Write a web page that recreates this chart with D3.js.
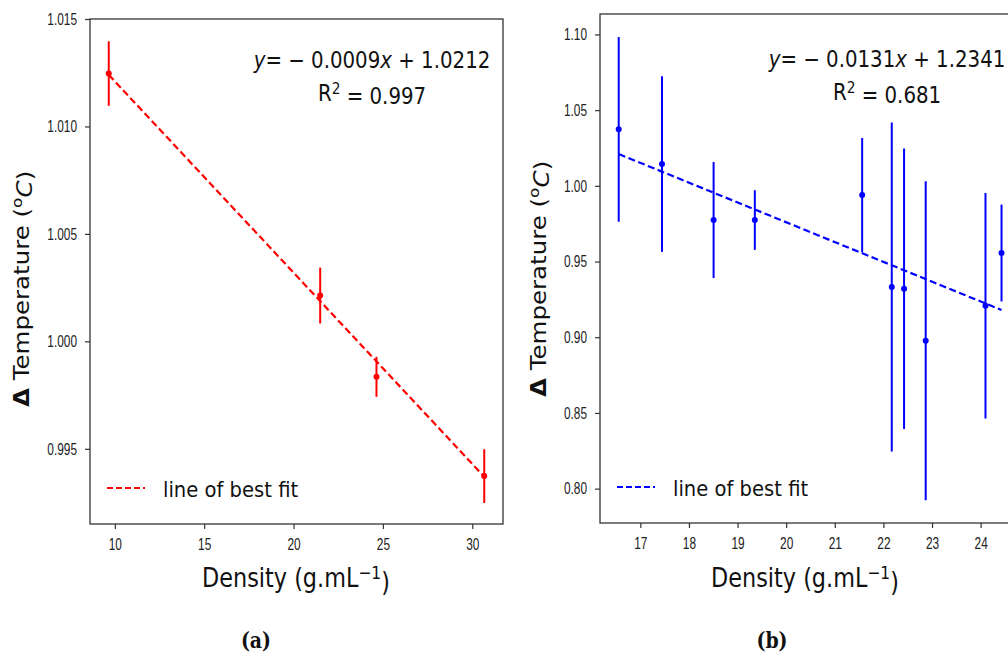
<!DOCTYPE html>
<html lang="en">
<head>
<meta charset="UTF-8">
<title>Delta temperature vs density</title>
<script src="https://cdn.jsdelivr.net/npm/d3@7"></script>
<style>
    body { margin: 0; padding: 0; background: #fff; }
    svg { display: block; font-family: 'DejaVu Sans', sans-serif; }
</style>
</head>
<body>
<script>
    // panel (a)
    const densityA = [9.66, 21.49, 24.64, 30.67];
    const tempA = [1.01246, 1.00213, 0.99835, 0.99373];
    const errA = [0.0015, 0.0013, 0.00093, 0.00125];
    const fitXA = [9.66, 30.67];
    const fitYA = [1.0124, 0.9937];
    const xTicksA = [10, 15, 20, 25, 30];
    const yTicksA = [0.995, 1.000, 1.005, 1.010, 1.015];

    // panel (b)
    const densityB = [16.555, 17.445, 18.507, 19.355, 21.563, 22.172, 22.425, 22.87, 24.10, 24.43];
    const tempB = [1.0373, 1.0144, 0.9774, 0.9774, 0.9939, 0.9332, 0.9320, 0.8977, 0.9208, 0.9556];
    const errB = [0.061, 0.058, 0.0383, 0.0197, 0.0377, 0.1087, 0.0926, 0.1054, 0.0745, 0.032];
    const fitXB = [16.555, 24.43];
    const fitYB = [1.021, 0.918];
    const xTicksB = [17, 18, 19, 20, 21, 22, 23, 24];
    const yTicksB = [0.80, 0.85, 0.90, 0.95, 1.00, 1.05, 1.10];

    const SQ = 0.86;      // picture is squeezed sideways
    const TICK_SQ = 0.72;

    const svg = d3.select("body").append("svg")
        .attr("width", 1008)
        .attr("height", 656);

    function drawPanel(p) {
        const x = d3.scaleLinear().domain(p.xDomain).range([p.left, p.right]);
        const y = d3.scaleLinear().domain(p.yDomain).range([p.bottom, p.top]);
        const g = svg.append("g");

        // fit line first, error bars on top
        const fit = p.fitX.map((v, i) => [v, p.fitY[i]]);
        g.append("path")
            .datum(fit)
            .attr("d", d3.line().x(d => x(d[0])).y(d => y(d[1])))
            .attr("fill", "none")
            .attr("stroke", p.color)
            .attr("stroke-width", 2.2)
            .attr("stroke-dasharray", "7,3.5");

        const pts = p.xs.map((v, i) => ({ x: v, y: p.ys[i], e: p.errs[i] }));
        g.selectAll("line.err").data(pts).enter().append("line")
            .attr("class", "err")
            .attr("x1", d => x(d.x)).attr("x2", d => x(d.x))
            .attr("y1", d => y(d.y - d.e)).attr("y2", d => y(d.y + d.e))
            .attr("stroke", p.color)
            .attr("stroke-width", 2);
        g.selectAll("circle").data(pts).enter().append("circle")
            .attr("cx", d => x(d.x)).attr("cy", d => y(d.y))
            .attr("r", 3)
            .attr("fill", p.color);

        // axes
        const xAxis = g.append("g")
            .attr("transform", `translate(0,${p.bottom})`)
            .call(d3.axisBottom(x).tickValues(p.xTicks).tickFormat(d3.format("d"))
                .tickSize(5).tickPadding(9).tickSizeOuter(0));
        const yAxis = g.append("g")
            .attr("transform", `translate(${p.left},0)`)
            .call(d3.axisLeft(y).tickValues(p.yTicks).tickFormat(d3.format(p.yFmt))
                .tickSize(5).tickPadding(13).tickSizeOuter(0));
        [xAxis, yAxis].forEach(a => {
            a.select(".domain").remove();
            a.selectAll(".tick line").attr("stroke", "#333").attr("stroke-width", 1.2);
            a.selectAll(".tick text")
                .attr("fill", "#222")
                .style("font-size", "16.5px")
                .attr("transform", `scale(${TICK_SQ},1)`);
        });

        // spines
        g.append("rect")
            .attr("x", p.left).attr("y", p.top)
            .attr("width", p.right - p.left).attr("height", p.bottom - p.top)
            .attr("fill", "none")
            .attr("stroke", "#333")
            .attr("stroke-width", 1.3);

        // equation
        const eq = g.append("text")
            .attr("transform", `translate(${p.eqX},${p.eqY}) scale(${SQ},1)`)
            .attr("text-anchor", "middle")
            .style("font-size", "23px")
            .attr("fill", "#111");
        eq.append("tspan").style("font-style", "italic").text("y");
        eq.append("tspan").text("= \u2212 " + p.slope);
        eq.append("tspan").style("font-style", "italic").text("x");
        eq.append("tspan").text(" + " + p.intercept);

        const r2 = g.append("text")
            .attr("transform", `translate(${p.eqX},${p.eqY + 33}) scale(${SQ},1)`)
            .attr("text-anchor", "middle")
            .style("font-size", "23px")
            .attr("fill", "#111");
        r2.append("tspan").text("R");
        r2.append("tspan").attr("dy", "-0.45em").style("font-size", "16px").text("2");
        r2.append("tspan").attr("dy", "0.45em").text(" = " + p.r2);

        // legend
        g.append("line")
            .attr("x1", p.left + 17).attr("x2", p.left + 55)
            .attr("y1", p.legY - 9).attr("y2", p.legY - 9)
            .attr("stroke", p.color)
            .attr("stroke-width", 2)
            .attr("stroke-dasharray", "6,3");
        g.append("text")
            .attr("transform", `translate(${p.left + 73},${p.legY}) scale(0.89,1)`)
            .style("font-size", "22px")
            .attr("fill", "#111")
            .text("line of best fit");

        // axis titles
        const xl = g.append("text")
            .attr("transform", `translate(${p.xLabelX},587) scale(${SQ},1)`)
            .attr("text-anchor", "middle")
            .style("font-size", "26px")
            .attr("fill", "#111");
        xl.append("tspan").text("Density (g.mL");
        xl.append("tspan").attr("dy", "-0.45em").style("font-size", "18px").text("\u22121");
        xl.append("tspan").attr("dy", "0.45em").text(")");

        const yl = g.append("text")
            .attr("transform", `translate(${p.yLabelX},${p.yLabelY}) rotate(-90) scale(1,${SQ})`)
            .style("font-size", "24.5px")
            .attr("fill", "#111");
        yl.append("tspan").style("font-weight", "bold").text("\u0394");
        yl.append("tspan").text(" Temperature (");
        yl.append("tspan").attr("dy", "-0.45em").style("font-size", "17px").text("o");
        yl.append("tspan").attr("dy", "0.45em").style("font-style", "italic").text("C");
        yl.append("tspan").text(")");

        // caption
        g.append("text")
            .attr("transform", `translate(${p.capX},648) scale(${SQ},1)`)
            .attr("text-anchor", "middle")
            .style("font-family", "'DejaVu Serif', serif")
            .style("font-weight", "bold")
            .style("font-size", "22px")
            .attr("fill", "#111")
            .text(p.caption);
    }

    drawPanel({
        xs: densityA, ys: tempA, errs: errA, fitX: fitXA, fitY: fitYA,
        xTicks: xTicksA, yTicks: yTicksA, yFmt: ".3f",
        xDomain: [8.61, 31.72], yDomain: [0.9915, 1.015],
        left: 90, right: 503, top: 19, bottom: 524,
        color: "#ff0000",
        slope: "0.0009", intercept: "1.0212", r2: "0.997",
        eqX: 372, eqY: 68, legY: 497,
        xLabelX: 296, yLabelX: 29, yLabelY: 407,
        capX: 256, caption: "(a)"
    });

    drawPanel({
        xs: densityB, ys: tempB, errs: errB, fitX: fitXB, fitY: fitYB,
        xTicks: xTicksB, yTicks: yTicksB, yFmt: ".2f",
        xDomain: [16.17, 24.81], yDomain: [0.7773, 1.1135],
        left: 600, right: 1020, top: 14, bottom: 523,
        color: "#0000ff",
        slope: "0.0131", intercept: "1.2341", r2: "0.681",
        eqX: 887, eqY: 67, legY: 496,
        xLabelX: 805, yLabelX: 546, yLabelY: 397,
        capX: 772, caption: "(b)"
    });
</script>
</body>
</html>
